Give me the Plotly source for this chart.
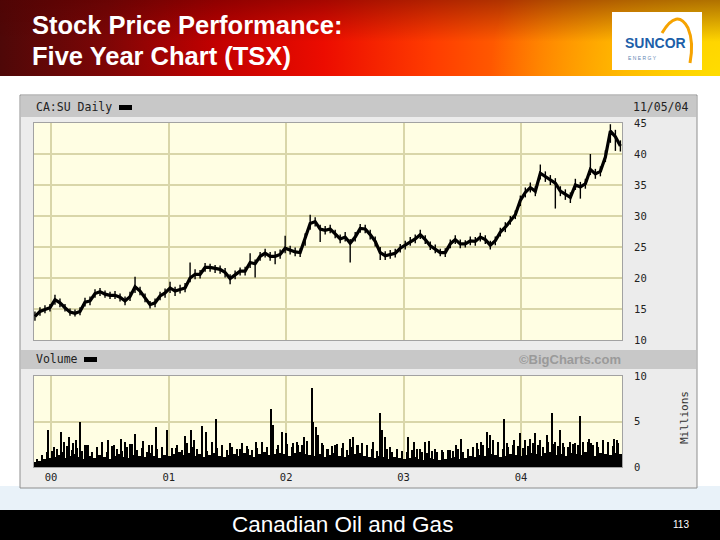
import base64
import pandas as pd
import plotly.graph_objects as go

# ---------------- data ----------------
price_close = [13.8,14.6,14.9,15.2,16.5,16.0,15.2,14.5,14.3,14.6,16.1,16.3,17.5,17.8,17.4,17.2,17.2,16.9,16.3,17.0,18.6,17.9,16.8,15.7,16.0,17.1,17.6,18.4,17.9,
               18.2,18.4,20.0,20.6,20.6,21.7,21.7,21.5,21.4,20.9,19.9,20.5,21.1,21.1,22.5,22.3,23.5,24.0,23.5,23.5,23.8,24.8,24.5,24.2,24.1,26.3,28.8,29.1,27.9,
               27.7,27.9,27.1,26.3,26.6,25.6,26.6,28.0,27.9,27.0,25.9,24.1,23.6,23.8,24.0,24.8,25.3,25.9,26.3,27.0,26.2,25.2,24.7,24.1,24.1,25.5,26.2,25.5,25.5,26.0,
               25.9,26.6,26.2,25.3,26.0,27.4,28.2,29.3,30.2,32.5,33.8,34.6,34.0,36.9,36.4,35.8,35.3,34.0,33.5,33.0,35.0,34.7,35.2,37.5,36.8,37.2,39.5,43.7,42.8,41.3]
price_high = [14.6,15.3,15.6,15.8,17.3,16.7,15.8,15.1,14.9,15.3,16.8,17.0,18.2,18.4,18.0,17.8,17.9,17.5,17.0,17.8,20.2,18.6,17.5,16.3,16.7,17.8,18.3,19.4,18.6,
              18.9,19.2,22.5,21.4,21.3,22.4,22.3,22.1,22.0,21.6,20.6,21.2,21.7,21.8,24.0,23.0,24.2,24.7,24.2,24.3,24.6,26.8,25.2,24.9,24.8,27.2,30.2,29.8,28.6,
              28.4,28.6,27.8,27.0,27.4,26.3,27.4,28.7,28.6,27.8,26.7,25.0,24.3,24.5,24.7,25.5,26.0,26.6,27.0,27.8,26.9,25.9,25.4,24.7,24.8,26.2,26.9,26.2,26.1,26.7,
              26.6,27.3,26.9,26.0,26.7,28.1,29.0,30.0,30.9,33.3,34.6,35.4,34.8,38.3,37.2,36.6,36.1,34.8,34.3,33.8,36.0,35.5,36.0,40.0,37.6,38.0,40.6,44.8,43.9,42.2]
price_low = [13.1,13.9,14.3,14.6,15.7,15.3,14.6,13.9,13.8,14.0,15.4,15.6,16.8,17.1,16.8,16.6,16.6,16.2,15.6,16.3,17.6,17.2,16.1,15.1,15.3,16.4,16.8,17.6,17.1,
             17.5,17.7,19.3,19.8,19.9,21.0,21.0,20.8,20.7,20.1,19.0,19.8,20.4,20.4,21.6,20.1,22.8,23.3,22.8,22.2,23.1,24.0,23.8,23.5,23.4,25.2,27.8,28.3,25.8,
             27.0,27.2,26.4,25.6,25.9,22.5,25.9,27.3,27.2,26.2,25.1,22.9,22.9,23.1,23.3,24.1,24.6,25.2,25.6,26.3,25.5,24.5,24.0,23.5,23.4,24.8,25.5,24.8,24.9,25.3,
             25.2,25.9,25.5,24.6,25.3,26.7,27.4,28.6,29.5,31.6,33.0,33.8,33.2,35.9,35.5,35.0,31.2,33.2,32.6,32.1,34.2,32.8,34.4,36.6,36.0,36.4,38.7,41.8,40.5,40.4]
price_dates = pd.date_range("1999-11-12", "2004-11-05", periods=len(price_close))

vol_base = [0.5,0.7,0.9,1.0,
            1.1,1.3,1.0,1.2,1.4,1.1,0.9,1.2,1.0,1.3,1.1,0.9,1.2,1.4,1.1,1.0,1.3,1.2,1.1,1.5,1.2,1.0,1.3,
            1.2,1.4,1.6,1.3,1.5,1.2,1.4,1.1,1.3,1.5,1.2,1.1,1.3,1.4,1.2,1.5,1.3,1.1,1.4,1.6,1.3,1.4,1.5,
            1.4,1.2,1.5,1.7,1.4,1.3,1.2,1.4,1.1,1.3,1.5,1.2,1.1,1.3,1.4,1.5,1.2,1.1,1.0,1.2,1.1,0.9,1.1,1.0,
            0.9,1.0,1.1,0.9,0.8,1.0,0.9,0.8,0.9,1.0,1.1,0.9,1.0,1.2,1.1,1.3,1.2,1.4,1.3,1.1,1.2,1.4,1.3,1.2,
            1.3,1.5,1.4,1.2,1.5,1.6,1.3,1.4,1.2,1.5,1.4,1.3,1.6,1.4,1.2,1.5,1.4,1.3,1.5,1.4]
vol_mid = [0.9,1.3,1.6,1.8,
           2.0,1.7,2.3,1.9,2.1,1.8,2.4,1.6,2.2,1.9,1.7,2.3,2.0,1.8,2.2,2.5,1.9,2.1,1.7,2.4,2.0,2.2,1.8,
           2.1,2.4,1.9,2.6,2.2,2.0,2.5,1.8,2.3,2.1,2.4,1.9,2.2,2.0,2.6,2.3,1.9,2.1,2.5,2.2,2.4,2.0,2.3,
           2.5,2.2,2.7,2.4,2.9,2.3,2.1,2.6,2.0,2.3,2.5,2.1,1.9,2.2,2.4,2.6,2.1,2.0,1.8,2.2,2.0,1.7,1.9,1.8,
           1.7,1.9,2.0,1.6,1.5,1.8,1.7,1.6,1.9,1.8,2.0,1.7,1.9,2.2,2.0,2.4,2.1,2.5,2.3,2.0,2.2,2.4,2.3,2.1,
           2.3,2.6,2.4,2.2,2.7,2.5,2.3,2.6,2.2,2.5,2.4,2.3,2.7,2.4,2.2,2.6,2.5,2.3,2.6,2.4]
vol_mid_dates = price_dates + pd.Timedelta(days=7)
spike_dates = ["1999-12-21","2000-01-10","2000-01-31","2000-02-11","2000-02-26","2000-03-08","2000-03-20","2000-04-01","2000-04-15","2000-04-26",
               "2000-05-22","2000-06-06","2000-06-27","2000-07-15","2000-08-04","2000-08-18","2000-09-02","2000-09-18","2000-10-14","2000-11-01",
               "2000-11-23","2000-12-10","2000-12-27","2001-01-25","2001-02-22","2001-03-10","2001-03-21","2001-04-13","2001-04-26","2001-05-14",
               "2001-05-27","2001-06-14","2001-07-10","2001-08-10","2001-09-05","2001-09-29","2001-10-17","2001-11-15","2001-11-20","2001-12-07",
               "2001-12-18","2002-01-01","2002-01-23","2002-02-08","2002-02-26","2002-03-21","2002-03-26","2002-04-04","2002-04-11","2002-04-27",
               "2002-05-12","2002-06-01","2002-06-27","2002-07-18","2002-07-28","2002-08-13","2002-09-08","2002-09-29","2002-10-20","2002-10-25",
               "2002-11-04","2002-11-20","2002-12-11","2003-01-16","2003-02-01","2003-02-22","2003-03-09","2003-03-21","2003-04-09","2003-04-30",
               "2003-05-26","2003-06-13","2003-06-29","2003-07-21","2003-08-16","2003-08-31","2003-09-16","2003-09-26","2003-10-07","2003-10-22",
               "2003-11-10","2003-11-17","2003-12-11","2003-12-28","2004-01-13","2004-01-29","2004-02-13","2004-02-29","2004-03-21","2004-04-05",
               "2004-04-16","2004-05-01","2004-05-15","2004-06-01","2004-06-17","2004-07-03","2004-07-12","2004-07-30","2004-08-07","2004-08-23",
               "2004-09-12","2004-09-28","2004-10-17","2004-10-27"]
spike_vols = [4.1,2.2,3.9,2.8,3.3,2.6,3.0,4.9,2.4,2.4,
              1.9,2.8,3.0,2.4,3.1,2.8,2.5,3.6,2.9,2.4,
              4.4,2.0,4.1,2.1,3.4,4.1,3.0,4.5,3.9,2.8,
              5.3,2.4,2.6,2.0,2.0,2.8,2.8,6.4,4.6,2.4,
              3.9,3.7,2.6,2.4,3.3,8.7,5.0,4.4,3.5,2.4,
              2.0,2.4,2.6,3.1,3.3,2.4,2.4,2.8,5.9,4.1,
              3.3,2.2,2.0,3.3,2.8,2.0,2.8,2.9,2.0,1.9,
              1.9,2.4,3.1,2.0,2.6,2.7,3.8,3.5,3.0,2.8,
              5.3,2.6,3.0,3.7,3.0,3.1,3.7,3.0,3.5,5.9,
              2.8,4.1,2.2,2.8,2.6,5.6,2.8,3.1,2.6,2.8,
              3.0,2.8,3.1,3.0]

year_ticks = ["2000-01-01", "2001-01-01", "2002-01-01", "2003-01-01", "2004-01-01"]
year_labels = ["00", "01", "02", "03", "04"]
price_ticks = [10, 15, 20, 25, 30, 35, 40, 45]
vol_ticks = [0, 5, 10]

# ---------------- layout helpers ----------------
W, H = 720, 540
def px(x): return x / W
def py(y): return 1 - y / H

MONO = "DejaVu Sans Mono"
SANS = "Liberation Sans, Arial, sans-serif"
DAY = 86400000
BAR = dict(color="black", line=dict(width=0))

fig = go.Figure()

fig.add_trace(go.Bar(x=price_dates, y=vol_base, width=15.6 * DAY, marker=BAR,
                     xaxis="x2", yaxis="y2", showlegend=False))
fig.add_trace(go.Bar(x=vol_mid_dates, y=vol_mid, width=3.2 * DAY, marker=BAR,
                     xaxis="x2", yaxis="y2", showlegend=False))
fig.add_trace(go.Bar(x=spike_dates, y=spike_vols, width=3.2 * DAY, marker=BAR,
                     xaxis="x2", yaxis="y2", showlegend=False))
fig.add_trace(go.Scatter(x=price_dates, y=price_close, mode="lines",
                         line=dict(color="black", width=3.2),
                         error_y=dict(type="data", symmetric=False,
                                      array=[h - c for h, c in zip(price_high, price_close)],
                                      arrayminus=[c - l for c, l in zip(price_close, price_low)],
                                      color="black", thickness=1.4, width=0),
                         xaxis="x", yaxis="y", showlegend=False))

grid = "#d9d6a9"
xrange_ = ["1999-11-09", "2004-11-10"]
xdom = [px(34), px(622)]
common_x = dict(type="date", range=xrange_, domain=xdom, tickvals=year_ticks, showgrid=True,
                gridcolor=grid, gridwidth=1.5, zeroline=False, showline=True, mirror=True,
                linecolor="#a2a2a2", linewidth=1, fixedrange=True, automargin=False)

# header gradient image (no text in it)
svg = '''<svg xmlns="http://www.w3.org/2000/svg" width="720" height="76" viewBox="0 0 720 76" preserveAspectRatio="none">
<defs>
<linearGradient id="g" x1="0" y1="0" x2="720" y2="0" gradientUnits="userSpaceOnUse">
<stop offset="0" stop-color="#4e0808"/><stop offset="0.15" stop-color="#7e0606"/>
<stop offset="0.3" stop-color="#c20000"/><stop offset="0.45" stop-color="#ec0c00"/>
<stop offset="0.6" stop-color="#ff3c00"/><stop offset="0.75" stop-color="#ff6e00"/>
<stop offset="0.9" stop-color="#ff9400"/><stop offset="1" stop-color="#ffb000"/>
</linearGradient>
<radialGradient id="r" cx="720" cy="80" r="230" gradientUnits="userSpaceOnUse">
<stop offset="0" stop-color="#ffe000" stop-opacity="0.95"/><stop offset="1" stop-color="#ffe000" stop-opacity="0"/>
</radialGradient>
<linearGradient id="v" x1="0" y1="0" x2="0" y2="1">
<stop offset="0" stop-color="#500000" stop-opacity="0.45"/><stop offset="0.55" stop-color="#500000" stop-opacity="0"/>
</linearGradient>
</defs>
<rect width="720" height="76" fill="url(#g)"/>
<rect width="720" height="76" fill="url(#r)"/>
<rect width="720" height="76" fill="url(#v)"/>
</svg>'''
src = "data:image/svg+xml;base64," + base64.b64encode(svg.encode()).decode()

def rect(x0, y0, x1, y1, fill, line=None, lw=0):
    return dict(type="rect", xref="paper", yref="paper", x0=px(x0), x1=px(x1), y0=py(y1), y1=py(y0),
                fillcolor=fill, line=dict(color=line or fill, width=lw), layer="below")

shapes = [
    rect(0, 486, 720, 510, "#e9f2f9"),
    rect(20, 95, 697, 488, "#ececec", "#8e8e8e", 1),
    rect(21, 96, 696, 117, "#c8c8c8"),
    rect(119, 105, 132, 110, "black"),
    rect(21, 350, 696, 369, "#c8c8c8"),
    rect(84, 357, 97, 362, "black"),
    rect(34, 123, 622, 340, "#fffee3"),
    rect(34, 376, 622, 467, "#fffee3"),
    rect(0, 510, 720, 540, "black"),
    rect(612, 12, 702, 70, "white"),
    dict(type="path", xref="paper", yref="paper", layer="below",
         path=f"M {px(662)} {py(33)} Q {px(677)} {py(8)} {px(688)} {py(28)} Q {px(694)} {py(42)} {px(690)} {py(63)}",
         line=dict(color="#f6a300", width=3)),
]

def ann(x, y, text, size, color="black", family=SANS, xanchor="left", bold=False, angle=0):
    return dict(x=px(x), y=py(y), xref="paper", yref="paper", text=f"<b>{text}</b>" if bold else text,
                showarrow=False, xanchor=xanchor, yanchor="middle", textangle=angle,
                font=dict(size=size, color=color, family=family))

annotations = [
    ann(30, 25, "Stock Price Performance:", 25.5, "white", bold=True),
    ann(30, 56, "Five Year Chart (TSX)", 25.5, "white", bold=True),
    ann(655, 43, "SUNCOR", 14, "#1d5fa9", xanchor="center", bold=True),
    ann(626, 58, "E N E R G Y", 5, "#5f86b3"),
    ann(34, 107, "CA:SU Daily", 11.5, "#222", MONO),
    ann(690, 107, "11/05/04", 11.5, "#222", MONO, "right"),
    ann(34, 359, "Volume", 11.5, "#222", MONO),
    ann(623, 359, "©BigCharts.com", 13, "#9a9a9a", xanchor="right", bold=True),
    ann(684, 418, "Millions", 11, "#333", MONO, "center", angle=-90),
    ann(342, 524, "Canadian Oil and Gas", 22.5, "white", xanchor="center"),
    ann(681, 524, "113", 10, "white", xanchor="center"),
]

yaxis_common = dict(side="right", showgrid=True, gridcolor=grid, gridwidth=1.5, zeroline=False,
                    showline=True, mirror=True, linecolor="#a2a2a2", linewidth=1, ticks="",
                    ticklabelstandoff=9, tickfont=dict(family=MONO, size=10.5, color="#222"),
                    fixedrange=True, automargin=False)

fig.update_layout(
    width=W, height=H, autosize=False,
    margin=dict(l=0, r=0, t=0, b=0, pad=0, autoexpand=False),
    paper_bgcolor="white", plot_bgcolor="rgba(0,0,0,0)",
    barmode="overlay", bargap=0,
    showlegend=False,
    xaxis=dict(**common_x, anchor="y", showticklabels=False),
    yaxis=dict(**yaxis_common, domain=[py(340), py(123)], range=[10, 45], tickvals=price_ticks, anchor="x"),
    xaxis2=dict(**common_x, anchor="y2", ticktext=year_labels, ticks="",
                tickfont=dict(family=MONO, size=10.5, color="#222")),
    yaxis2=dict(**yaxis_common, domain=[py(467), py(376)], range=[0, 10], tickvals=vol_ticks, anchor="x2"),
    shapes=shapes,
    annotations=annotations,
    images=[dict(source=src, xref="paper", yref="paper", x=0, y=1, sizex=1, sizey=76 / H,
                 xanchor="left", yanchor="top", sizing="stretch", layer="below")],
)

fig.write_html("out.html", config={"displayModeBar": False},
               post_script="document.body.style.margin='0';")
